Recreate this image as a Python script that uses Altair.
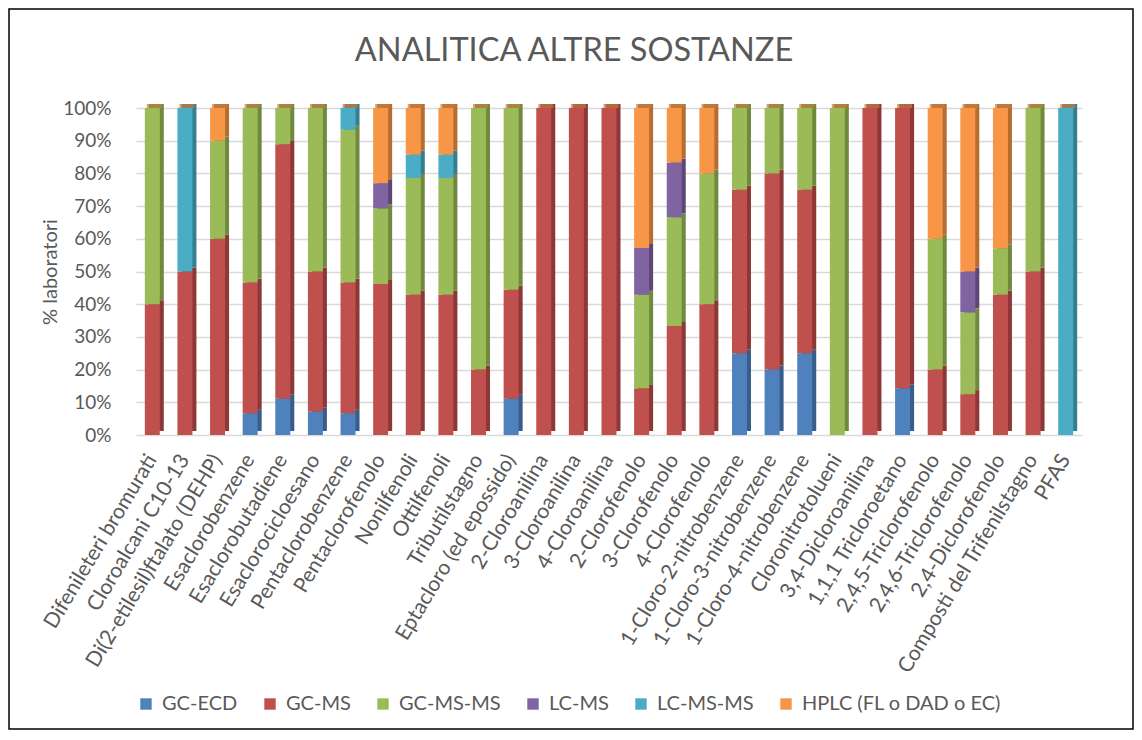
import altair as alt
import pandas as pd

TITLE = "ANALITICA ALTRE SOSTANZE"
Y_TITLE = "% laboratori"

categories = [
    "Difenileteri bromurati", "Cloroalcani C10-13", "Di(2-etilesil)ftalato (DEHP)",
    "Esaclorobenzene", "Esaclorobutadiene", "Esaclorocicloesano", "Pentaclorobenzene",
    "Pentaclorofenolo", "Nonilfenoli", "Ottilfenoli", "Tributilstagno",
    "Eptacloro (ed epossido)", "2-Cloroanilina", "3-Cloroanilina", "4-Cloroanilina",
    "2-Clorofenolo", "3-Clorofenolo", "4-Clorofenolo", "1-Cloro-2-nitrobenzene",
    "1-Cloro-3-nitrobenzene", "1-Cloro-4-nitrobenzene", "Cloronitrotolueni",
    "3,4-Dicloroanilina", "1,1,1 Tricloroetano", "2,4,5-Triclorofenolo",
    "2,4,6-Triclorofenolo", "2,4-Diclorofenolo", "Composti del Trifenilstagno", "PFAS",
]

series = ["GC-ECD", "GC-MS", "GC-MS-MS", "LC-MS", "LC-MS-MS", "HPLC (FL o DAD o EC)"]

gc_ecd = [0, 0, 0, 6.67, 11.1, 7.1, 6.67, 0, 0, 0, 0, 11.1, 0, 0, 0,
          0, 0, 0, 25, 20, 25, 0, 0, 14.3, 0, 0, 0, 0, 0]
gc_ms = [40, 50, 60, 40, 77.8, 42.9, 40, 46.2, 42.9, 42.9, 20, 33.3, 100, 100, 100,
         14.3, 33.3, 40, 50, 60, 50, 0, 100, 85.7, 20, 12.5, 42.9, 50, 0]
gc_ms_ms = [60, 0, 30, 53.33, 11.1, 50, 46.67, 23.1, 35.7, 35.7, 80, 55.6, 0, 0, 0,
            28.6, 33.3, 40, 25, 20, 25, 100, 0, 0, 40, 25, 14.2, 50, 0]
lc_ms = [0, 0, 0, 0, 0, 0, 0, 7.7, 0, 0, 0, 0, 0, 0, 0,
         14.3, 16.7, 0, 0, 0, 0, 0, 0, 0, 0, 12.5, 0, 0, 0]
lc_ms_ms = [0, 50, 0, 0, 0, 0, 6.66, 0, 7.1, 7.1, 0, 0, 0, 0, 0,
            0, 0, 0, 0, 0, 0, 0, 0, 0, 0, 0, 0, 0, 100]
hplc = [0, 0, 10, 0, 0, 0, 0, 23.0, 14.3, 14.3, 0, 0, 0, 0, 0,
        42.8, 16.7, 20, 0, 0, 0, 0, 0, 0, 40, 50, 42.9, 0, 0]

colors = ["#4F81BD", "#C0504D", "#9BBB59", "#8064A2", "#4BACC6", "#F79646"]
dark_colors = ["#385D8A", "#8C3836", "#71893F", "#5C4776", "#357D91", "#B66D31"]

rows = []
for s_i, (name, vals) in enumerate(zip(series, [gc_ecd, gc_ms, gc_ms_ms, lc_ms, lc_ms_ms, hplc])):
    for c, v in zip(categories, vals):
        rows.append({"cat": c, "series": name, "order": s_i, "value": v})
df = pd.DataFrame(rows)

FONT = "Lato"
GRAY = "#595959"
PLOT_W, PLOT_H = 946, 327
PAD_L, PAD_T = 128, 100
TOTAL_W, TOTAL_H = 1126, 722

x_axis = alt.Axis(title=None, labelAngle=-59, labelFontSize=21, labelFont=FONT,
                  labelColor=GRAY, domain=False, ticks=False, labelPadding=21,
                  labelLimit=400)
y_axis = alt.Axis(title=Y_TITLE, values=list(range(0, 101, 10)),
                  labelExpr="datum.value + '%'", labelFontSize=19, labelFont=FONT,
                  labelColor=GRAY, domain=False, ticks=False, labelPadding=25,
                  gridColor="#D9D9D9", gridWidth=1.5,
                  titleFontSize=20, titleFont=FONT, titleColor=GRAY,
                  titleFontWeight="normal", titleX=-86, titleY=PLOT_H / 2,
                  titleAlign="center", titleBaseline="middle", titleAngle=-90)
x_scale = alt.Scale(paddingInner=0.0, paddingOuter=0.0)
y_scale = alt.Scale(domain=[0, 100], nice=False)

side = alt.Chart(df).mark_bar(size=15, xOffset=4, yOffset=-4).encode(
    x=alt.X("cat:N", sort=categories, scale=x_scale, axis=x_axis),
    y=alt.Y("value:Q", stack="zero", scale=y_scale, axis=y_axis),
    order=alt.Order("order:Q"),
    color=alt.Color("series:N", sort=series, scale=alt.Scale(domain=series, range=dark_colors),
                    legend=None),
)

cap_df = pd.DataFrame({"cat": categories, "value": [100] * len(categories)})
cap = alt.Chart(cap_df).mark_tick(thickness=4, size=15, xOffset=2, yOffset=-2,
                                  color="#C77D3E", orient="horizontal").encode(
    x=alt.X("cat:N", sort=categories, scale=x_scale, axis=x_axis),
    y=alt.Y("value:Q", scale=y_scale, axis=y_axis),
)

front = alt.Chart(df).mark_bar(size=15).encode(
    x=alt.X("cat:N", sort=categories, scale=x_scale, axis=x_axis),
    y=alt.Y("value:Q", stack="zero", scale=y_scale, axis=y_axis),
    order=alt.Order("order:Q"),
    color=alt.Color("series:N", sort=series, scale=alt.Scale(domain=series, range=colors),
                    legend=alt.Legend(title=None, orient="none", direction="horizontal",
                                      legendX=0, legendY=586, symbolType="square",
                                      symbolSize=130, symbolStrokeWidth=0, labelFontSize=20,
                                      labelFont=FONT, labelColor=GRAY, columnPadding=22,
                                      labelOffset=6, labelLimit=400)),
)

title = alt.Chart(pd.DataFrame({"t": [TITLE]})).mark_text(
    fontSize=32.5, font=FONT, color=GRAY, align="center", baseline="alphabetic").encode(
    text="t:N", x=alt.value(PLOT_W / 2 - 35), y=alt.value(-47))

frame = alt.Chart(pd.DataFrame({"f": [0]})).mark_rect(
    fill=None, stroke="#000000", strokeWidth=1.5).encode(
    x=alt.value(-PAD_L + 1), x2=alt.value(TOTAL_W - PAD_L - 1),
    y=alt.value(-PAD_T + 1), y2=alt.value(TOTAL_H - PAD_T - 1))

chart = alt.layer(side, cap, front, title, frame).resolve_scale(color="independent").properties(
    width=PLOT_W, height=PLOT_H,
    autosize=alt.AutoSizeParams(type="none"),
    padding={"left": PAD_L, "top": PAD_T, "right": TOTAL_W - PAD_L - PLOT_W,
             "bottom": TOTAL_H - PAD_T - PLOT_H},
    background="white",
).configure_view(stroke=None)

chart.save("out.html", embed_options={"renderer": "svg", "actions": False})
